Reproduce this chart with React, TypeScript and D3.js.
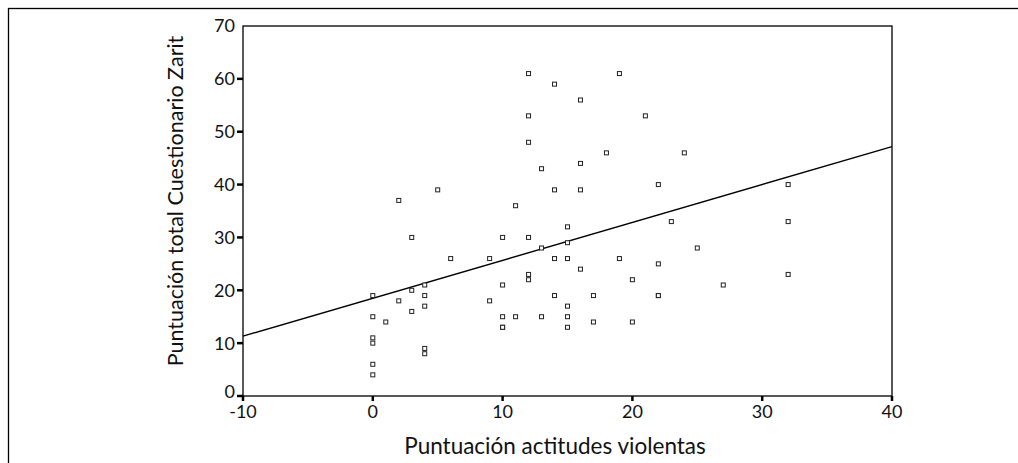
import React from "react";
import * as d3 from "d3";

// scatter points: [actitudes violentas, Zarit]
const xValues = [
  0, 0, 0, 0, 0, 0, 1, 2, 2, 3, 3, 3, 4, 4, 4, 4, 4, 5, 6,
  9, 9, 10, 10, 10, 10, 10, 11, 11, 12, 12, 12, 12, 12, 12, 13, 13, 13,
  14, 14, 14, 14, 15, 15, 15, 15, 15, 15, 16, 16, 16, 16, 17, 17,
  18, 19, 19, 20, 20, 21, 22, 22, 22, 22, 23, 24, 25, 27, 32, 32, 32,
];
const yValues = [
  19, 15, 11, 10, 6, 4, 14, 37, 18, 30, 20, 16, 21, 19, 17, 9, 8, 39, 26,
  26, 18, 30, 21, 15, 13, 13, 36, 15, 61, 53, 48, 30, 23, 22, 43, 28, 15,
  59, 39, 26, 19, 32, 29, 26, 17, 13, 15, 56, 44, 39, 24, 19, 14,
  46, 61, 26, 22, 14, 53, 40, 25, 19, 19, 33, 46, 28, 21, 40, 33, 23,
];
const xTicks = [-10, 0, 10, 20, 30, 40];
const yTicks = [0, 10, 20, 30, 40, 50, 60, 70];

// fitted line as drawn in the picture
const fitIntercept = 18.5;
const fitSlope = 0.717;

const width = 1018;
const height = 463;
const plot = { left: 243, right: 892, top: 26, bottom: 396 };
const font = "Lato, 'Open Sans', sans-serif";

export default function App() {
  const x = d3.scaleLinear().domain([-10, 40]).range([plot.left, plot.right]);
  const y = d3.scaleLinear().domain([0, 70]).range([plot.bottom, plot.top]);

  const points = xValues.map((v, i) => [v, yValues[i]]);
  const fit = d3
    .line<number>()
    .x((d) => x(d))
    .y((d) => y(fitIntercept + fitSlope * d));

  return (
    <svg
      width={width}
      height={height}
      style={{ position: "absolute", left: 0, top: 0, background: "#fff" }}
    >
      <rect x={8.5} y={8.5} width={1030} height={480} fill="none" stroke="#000" strokeWidth={1.3} />
      <rect
        x={plot.left}
        y={plot.top}
        width={plot.right - plot.left}
        height={plot.bottom - plot.top}
        fill="none"
        stroke="#000"
        strokeWidth={1.3}
      />

      {/* y axis */}
      {yTicks.map((t) => (
        <g key={"y" + t}>
          {t !== 70 && (
            <line x1={plot.left - 6} x2={plot.left} y1={y(t)} y2={y(t)} stroke="#000" strokeWidth={2.5} />
          )}
          <text
            x={plot.left - 8}
            y={y(t)}
            dy={t === 0 ? "0.1em" : "0.36em"}
            textAnchor="end"
            fontFamily={font}
            fontSize={18}
            fill="#111"
          >
            {t}
          </text>
        </g>
      ))}

      {/* x axis */}
      {xTicks.map((t) => (
        <g key={"x" + t}>
          <line x1={x(t)} x2={x(t)} y1={plot.bottom} y2={plot.bottom + 5} stroke="#000" strokeWidth={2.5} />
          <text
            x={x(t)}
            y={plot.bottom + 22}
            textAnchor="middle"
            fontFamily={font}
            fontSize={18}
            fill="#111"
          >
            {t}
          </text>
        </g>
      ))}

      <text x={555} y={454} textAnchor="middle" fontFamily={font} fontSize={22.5} fill="#111">
        Puntuación actitudes violentas
      </text>
      <text
        transform={`translate(183,201) rotate(-90)`}
        textAnchor="middle"
        fontFamily={font}
        fontSize={21.5}
        fill="#111"
      >
        Puntuación total Cuestionario Zarit
      </text>

      <path d={fit([-10, 40]) || ""} fill="none" stroke="#000" strokeWidth={1.4} />

      {points.map(([px, py], i) => (
        <rect
          key={i}
          x={x(px) - 2}
          y={y(py) - 2}
          width={4}
          height={4}
          fill="#fff"
          stroke="#222"
          strokeWidth={1}
        />
      ))}
    </svg>
  );
}
